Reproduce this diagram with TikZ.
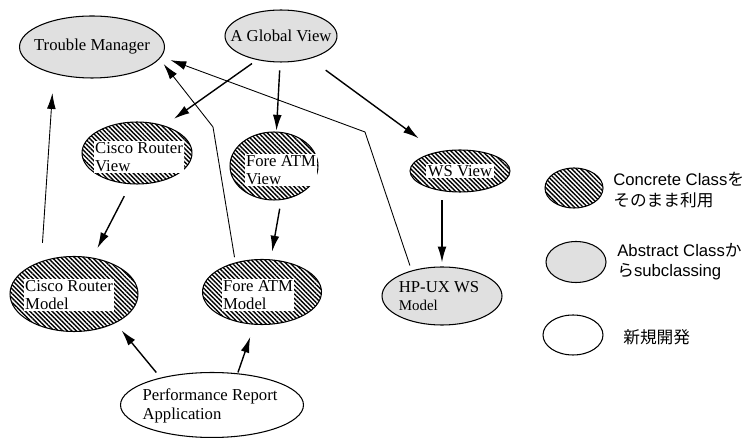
\documentclass[tikz,border=0pt]{standalone}
\usepackage{fontspec}
\setmainfont{Liberation Serif}
\setsansfont{Liberation Sans}
\newfontfamily\jp{Noto Sans CJK JP}
\usetikzlibrary{arrows.meta,shapes.geometric,patterns.meta}
\tikzstyle{cls}=[ellipse, draw=black, line width=0.6pt, inner sep=0pt]
\tikzstyle{concrete}=[cls, pattern={Lines[angle=-45,distance=1.8pt,line width=0.8pt]}]
\tikzstyle{abstract}=[cls, fill=black!12]
\tikzstyle{newdev}=[cls, fill=white]
\tikzstyle{txt}=[align=left, inner sep=0.8pt, font=\fontsize{9.5}{10.5}\selectfont]
\tikzstyle{wtxt}=[txt, fill=white]
\tikzstyle{arr}=[-{Latex[length=9pt,width=5pt]}, line width=0.8pt]
\tikzstyle{back}=[arr, line width=0.5pt]
\tikzstyle{leg}=[anchor=west, align=left, inner sep=0pt,
                 font=\sffamily\fontsize{9.5}{11.5}\selectfont]

\begin{document}
\begin{tikzpicture}[x=0.02cm, y=-0.02cm]
\path[use as bounding box] (0,0) rectangle (743,438);
% classes
\node[abstract, minimum width=2.9cm, minimum height=1.24cm] (trb) at (92,47) {};
\node[txt] (trbt) at (trb) {Trouble Manager};
\node[abstract, minimum width=2.24cm, minimum height=1.04cm] (glob) at (281,36) {};
\node[txt] (globt) at (glob) {A Global View};
\node[concrete, minimum width=2.2cm, minimum height=1.24cm] (crv) at (137,153) {};
\node[wtxt] (crvt) at (139,157) {Cisco Router\\View};
\node[concrete, minimum width=1.76cm, minimum height=1.36cm] (fav) at (274,166) {};
\node[wtxt] (favt) at (281,170) {Fore ATM\\View};
\node[concrete, minimum width=2.0cm, minimum height=0.84cm] (wsv) at (460,171) {};
\node[wtxt] (wsvt) at (wsv) {WS View};
\node[abstract, minimum width=2.4cm, minimum height=1.16cm] (hpm) at (442,296) {};
\node[txt] (hpmt) at (439,296) {HP-UX WS\\{\fontsize{8.5}{10}\selectfont Model}};
\node[concrete, minimum width=2.56cm, minimum height=1.5cm] (crm) at (74,294) {};
\node[wtxt] (crmt) at (69,295) {Cisco Router\\Model};
\node[concrete, minimum width=2.38cm, minimum height=1.3cm] (fam) at (262,292) {};
\node[wtxt] (famt) at (258,295) {Fore ATM\\Model};
\node[newdev, minimum width=3.66cm, minimum height=1.3cm] (pra) at (212,405) {};
\node[txt] (prat) at (210,406) {Performance Report\\Application};

% legend
\node[concrete, minimum width=1.16cm, minimum height=0.8cm] (lc) at (574,188) {};
\node[leg] (lct) at (613,190) {Concrete Class{\jp を}\\{\jp そのまま利用}};
\node[abstract, minimum width=1.2cm, minimum height=0.82cm] (la) at (576,262) {};
\node[leg] (lat) at (617,262) {Abstract Class{\jp か}\\{\jp ら}subclassing};
\node[newdev, minimum width=1.2cm, minimum height=0.8cm] (ln) at (573,335) {};
\node[leg] (lnt) at (623,337) {\jp 新規開発};

% uses
\path[arr]
  (glob.225) edge[shorten <=3.5pt, shorten >=6.5pt] (crv.45)
  (glob.268) edge[shorten <=4.5pt, shorten >=0.5pt] (fav.86)
  (glob.322) edge[shorten <=11pt, shorten >=13pt] (wsv.140)
  (crv.258) edge[shorten <=7.5pt, shorten >=6pt] (crm.63)
  (fav.282) edge[shorten <=5pt, shorten >=4.5pt] (fam.75)
  (hpm.north |- wsv.south) edge[shorten <=4.5pt, shorten >=2.3pt] (hpm.north)
  (pra.152) edge[shorten <=3.8pt, shorten >=5.4pt] (crm.325)
  (pra.51) edge[shorten <=0.5pt, shorten >=7.3pt] (fam.257);

% back to trouble manager
\coordinate (bend1) at (213,127);
\coordinate (bend2) at (365,132);
\draw[back, shorten <=10.5pt, shorten >=11pt] (crm.135) -- (trb.215);
\draw[back, shorten <=3pt, shorten >=3.7pt] (fam.132) -- (bend1) -- (trb.350);
\draw[back, shorten <=3pt, shorten >=5.5pt] (hpm.140) -- (bend2) -- (trb.352);
\end{tikzpicture}
\end{document}
